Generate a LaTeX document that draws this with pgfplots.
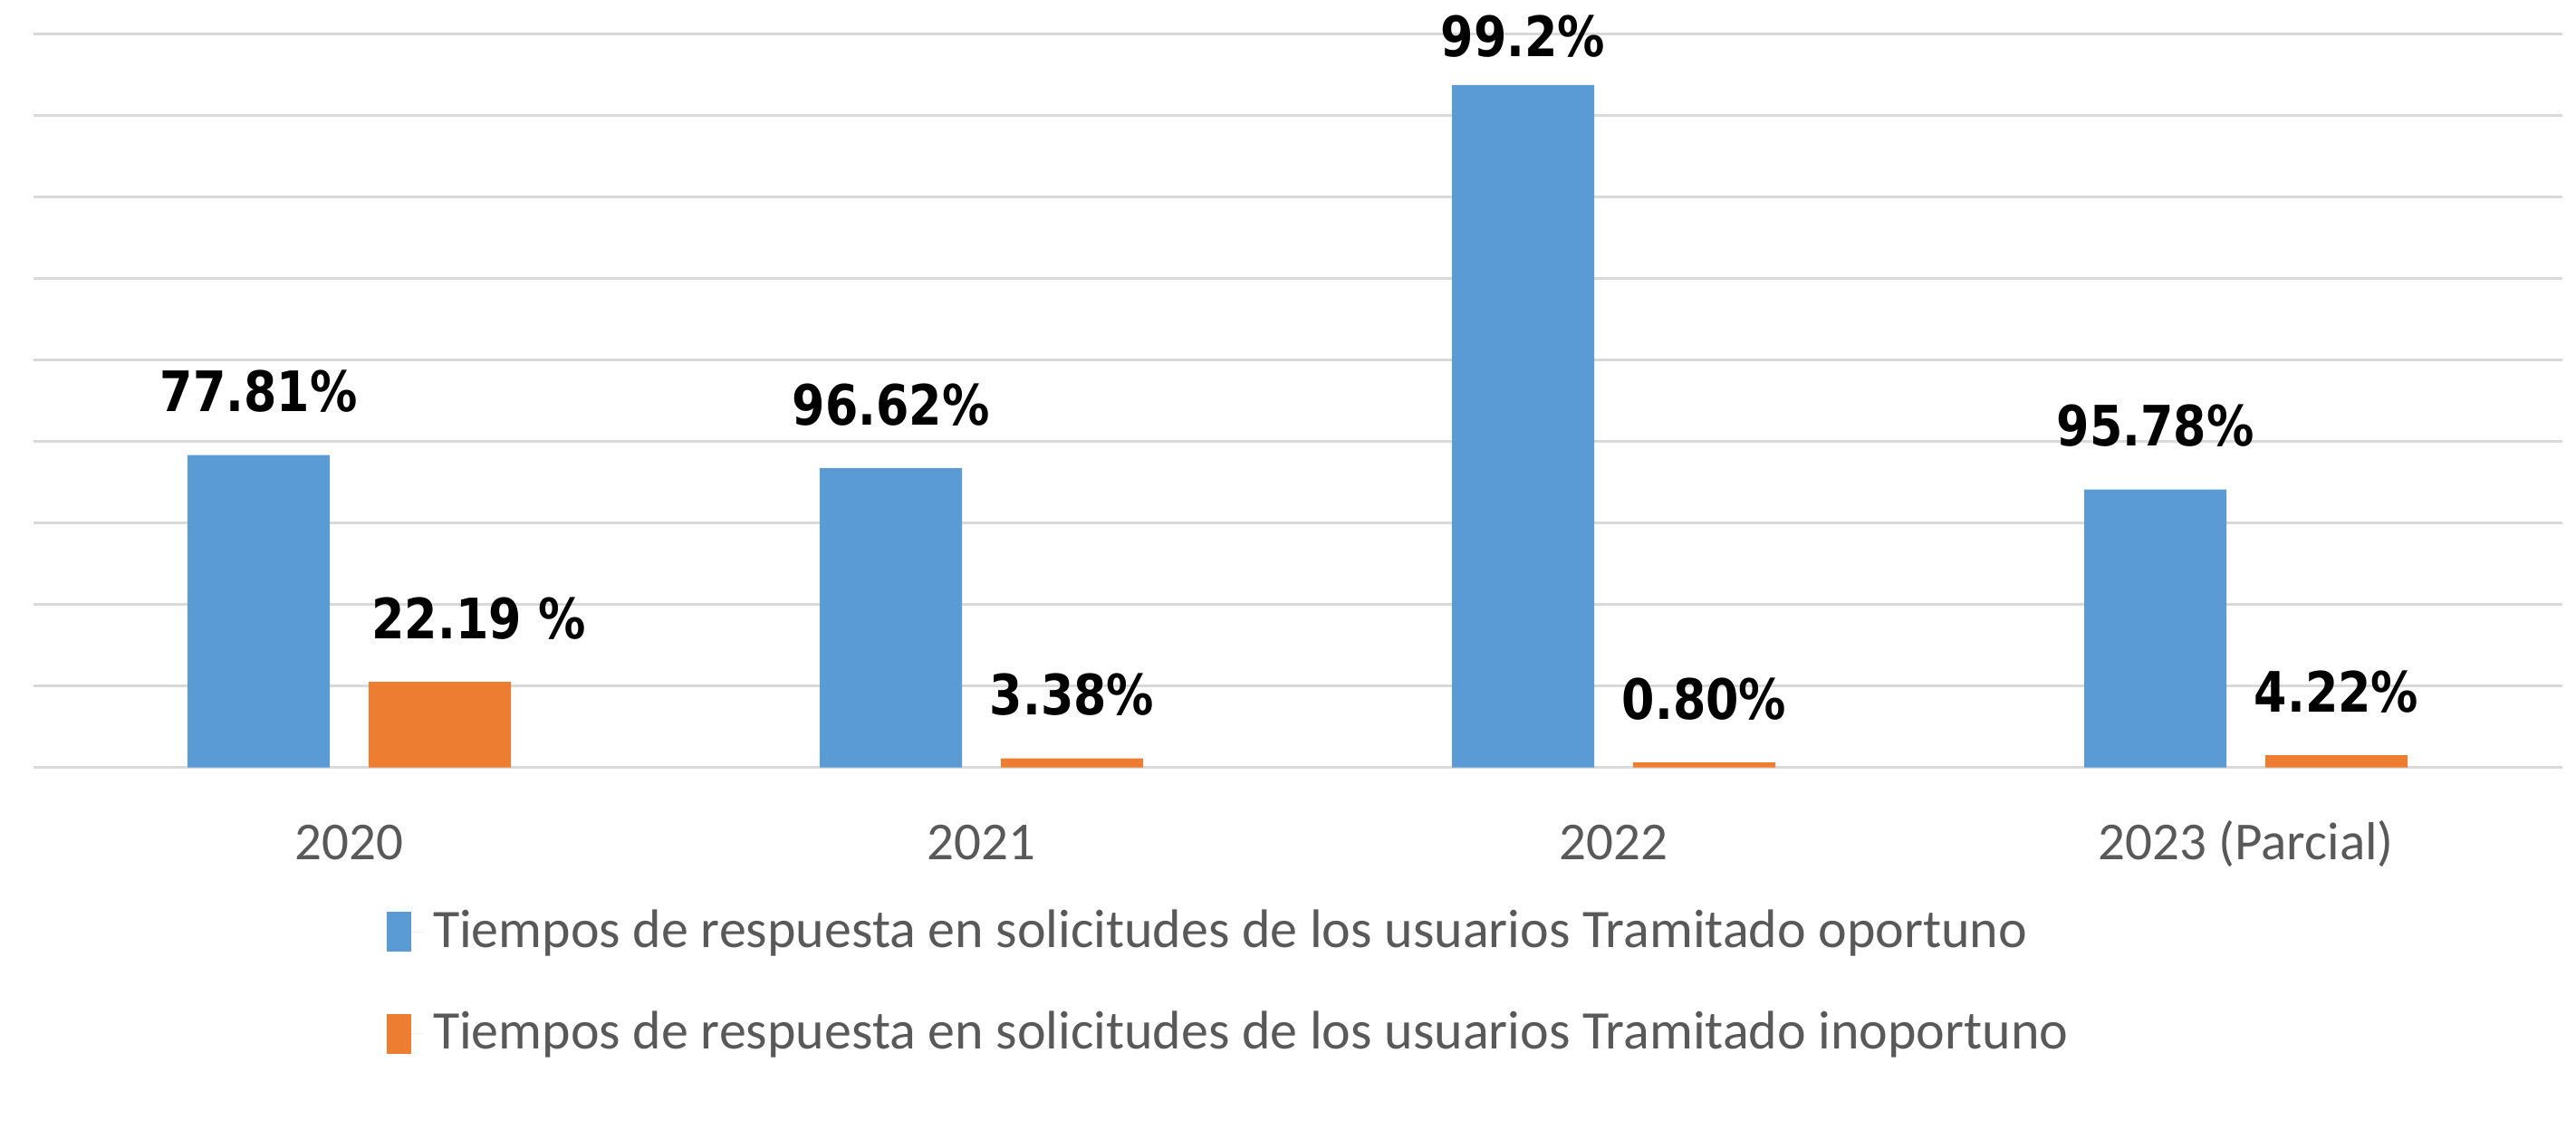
\documentclass[border=0pt]{standalone}
\usepackage{fontspec}
\setmainfont{Carlito}
\newfontfamily\labfont[FakeStretch=0.85]{DejaVu Sans}
\usepackage{pgfplots}
\usepackage{pgfplotstable}
\pgfplotsset{compat=1.18}
\definecolor{cblue}{HTML}{5B9BD5}
\definecolor{corange}{HTML}{ED7D31}
\definecolor{cgrid}{HTML}{D9D9D9}
\definecolor{ctext}{HTML}{595959}

\pgfplotstableread[col sep=comma]{
x,y,lab,dy,dx
0,383,77.81\%,9.6,0
1,367,96.62\%,9.6,0
2,837,99.2\%,6.2,0
3,341,95.78\%,9.6,0
}\oport
\pgfplotstableread[col sep=comma]{
x,y,lab,dy,dx
0,105,22.19 \%,9.6,8.6
1,11,3.38\%,9.6,0
2,6,0.80\%,9.6,0
3,15,4.22\%,9.6,0
}\inop

\begin{document}
\begin{tikzpicture}
\useasboundingbox (-7.3pt,-81.88pt) rectangle (561.5pt,169.52pt);
\begin{axis}[
 at={(0pt,0pt)}, anchor=south west,
 scale only axis, width=558.4pt, height=162.08pt,
 xmin=-0.5, xmax=3.5, ymin=0, ymax=900,
 ybar, bar width=31.4pt,
 ytick={0,100,...,900}, yticklabels={},
 ymajorgrids, grid style={cgrid, line width=0.55pt},
 xtick={0,1,2,3}, xticklabels={2020,2021,2022,2023 (Parcial)},
 axis line style={draw=none},
 major tick length=0pt,
 xticklabel style={font=\fontsize{11.8}{14}\selectfont, text=ctext, anchor=base, yshift=-20.3pt},
 clip=false,
 nodes near coords,
 point meta=explicit symbolic,
 visualization depends on={\thisrow{dy}\as\dy},
 visualization depends on={\thisrow{dx}\as\dx},
 nodes near coords style={font=\labfont\bfseries\fontsize{12.3}{14}\selectfont, text=black, anchor=base, yshift=\dy pt, xshift=\dx pt, inner sep=0pt},
 legend style={at={(0,0)}, anchor=north west, xshift=77.8pt, yshift=-29.2pt, draw=none, fill=none, inner sep=0pt, font=\fontsize{12}{14.2}\selectfont, text=ctext, row sep=8.7pt, cells={anchor=west}},
 legend image code/.code={\fill[#1] (0pt,-4.4pt) rectangle (5.4pt,4.4pt); \path (0pt,0pt) -- (8.3pt,0pt);},
]
\addplot[fill=cblue, draw=none, bar shift=-20pt] table[x=x, y=y, meta=lab] {\oport};
\addplot[fill=corange, draw=none, bar shift=20pt] table[x=x, y=y, meta=lab] {\inop};
\legend{Tiempos de respuesta en solicitudes de los usuarios Tramitado oportuno, Tiempos de respuesta en solicitudes de los usuarios Tramitado inoportuno}
\end{axis}
\end{tikzpicture}
\end{document}
